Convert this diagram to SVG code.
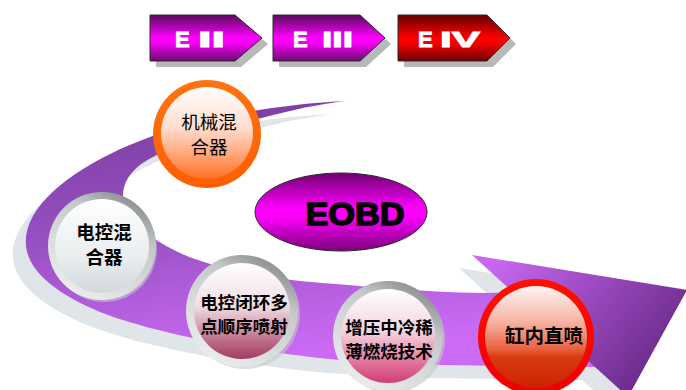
<svg xmlns="http://www.w3.org/2000/svg" width="686" height="390" viewBox="0 0 686 390">
  <style>
    .tag-shadow { fill: #b8b8b8; }
    .tag { stroke: #2a2a2a; stroke-width: 1; }
    .tag-text { font-family: "Liberation Sans", Arial, sans-serif; font-weight: bold; font-size: 22px; fill: #ffffff; stroke: #ffffff; stroke-width: 0.9; }
    .cjk { font-family: "Noto Sans CJK SC", sans-serif; text-anchor: middle; fill: #000000; }
    .bold { font-weight: bold; }
    .eobd { font-family: "Liberation Sans", Arial, sans-serif; font-weight: bold; font-size: 32px; fill: #000000; stroke: #000000; stroke-width: 1.6; text-anchor: middle; }
  </style>
  <defs>
    <linearGradient id="gPurpleTag" x1="0" y1="0" x2="0" y2="1">
      <stop offset="0" stop-color="#5a0a5e"/>
      <stop offset="0.5" stop-color="#ff00ff"/>
      <stop offset="0.62" stop-color="#f400f4"/>
      <stop offset="1" stop-color="#6a0a70"/>
    </linearGradient>
    <linearGradient id="gRedTag" x1="0" y1="0" x2="0" y2="1">
      <stop offset="0" stop-color="#680000"/>
      <stop offset="0.5" stop-color="#ff0000"/>
      <stop offset="0.62" stop-color="#f40000"/>
      <stop offset="1" stop-color="#6c0000"/>
    </linearGradient>
    <linearGradient id="gBand" x1="0" y1="0" x2="0.25" y2="1">
      <stop offset="0" stop-color="#7a3a9c"/>
      <stop offset="0.5" stop-color="#9650c2"/>
      <stop offset="1" stop-color="#cc6af5"/>
    </linearGradient>
    <linearGradient id="gHead" gradientUnits="userSpaceOnUse" x1="490" y1="262" x2="640" y2="385">
      <stop offset="0" stop-color="#c968f2"/>
      <stop offset="1" stop-color="#6c2c8c"/>
    </linearGradient>
    <linearGradient id="gEobd" x1="0" y1="0" x2="0" y2="1">
      <stop offset="0" stop-color="#700070"/>
      <stop offset="0.45" stop-color="#ff00ff"/>
      <stop offset="0.58" stop-color="#f800f8"/>
      <stop offset="1" stop-color="#7a007a"/>
    </linearGradient>
    <!-- rings -->
    <linearGradient id="ringOrange" x1="0" y1="0" x2="0" y2="1">
      <stop offset="0" stop-color="#ff7410"/>
      <stop offset="1" stop-color="#ff5e00"/>
    </linearGradient>
    <linearGradient id="ringSilver" x1="0.8" y1="0" x2="0.2" y2="1">
      <stop offset="0" stop-color="#7e8282"/>
      <stop offset="0.3" stop-color="#c4c8c8"/>
      <stop offset="1" stop-color="#eef0f0"/>
    </linearGradient>
    <linearGradient id="ringRed" x1="0" y1="0" x2="0" y2="1">
      <stop offset="0" stop-color="#ff1000"/>
      <stop offset="1" stop-color="#ee0000"/>
    </linearGradient>
    <!-- faces -->
    <linearGradient id="faceOrange" x1="0" y1="0" x2="0" y2="1">
      <stop offset="0" stop-color="#ffffff"/>
      <stop offset="0.45" stop-color="#ffdccc"/>
      <stop offset="0.78" stop-color="#ff9c6a"/>
      <stop offset="1" stop-color="#ff7024"/>
    </linearGradient>
    <linearGradient id="faceGrey" x1="0" y1="0" x2="0" y2="1">
      <stop offset="0" stop-color="#ffffff"/>
      <stop offset="0.6" stop-color="#eaeeef"/>
      <stop offset="1" stop-color="#d2d9db"/>
    </linearGradient>
    <linearGradient id="faceRose" x1="0" y1="0" x2="0" y2="1">
      <stop offset="0" stop-color="#ffffff"/>
      <stop offset="0.45" stop-color="#f0dde3"/>
      <stop offset="0.8" stop-color="#c0708c"/>
      <stop offset="1" stop-color="#a03c62"/>
    </linearGradient>
    <linearGradient id="facePink" x1="0" y1="0" x2="0" y2="1">
      <stop offset="0" stop-color="#ffffff"/>
      <stop offset="0.45" stop-color="#f4d4de"/>
      <stop offset="0.8" stop-color="#e07098"/>
      <stop offset="1" stop-color="#d03c74"/>
    </linearGradient>
    <linearGradient id="faceRed" x1="0" y1="0" x2="0" y2="1">
      <stop offset="0" stop-color="#fff4f2"/>
      <stop offset="0.35" stop-color="#f6b4a4"/>
      <stop offset="0.62" stop-color="#e8603e"/>
      <stop offset="0.7" stop-color="#d83a10"/>
      <stop offset="1" stop-color="#cc2200"/>
    </linearGradient>

    <!-- curved band and its arrowhead -->
    <path id="band" d="M345,101 C300,103 220,112 150,137 C95,157 45,188 30,222 C16,255 36,285 100,312 C150,332 250,352 340,360 L440,365 L600,367 L540,292 L483,293 C420,292 360,286 300,281 C240,274 195,262 170,248 C140,232 122,212 123,194 C124,178 135,166 153,157 C185,140 240,122 290,111 C310,106 330,103 345,101 Z"/>
    <path id="head" d="M472,255 L687,290 L628,397 Z"/>
  </defs>

  <rect width="686" height="390" fill="#ffffff"/>

  <!-- big sweeping arrow -->
  <g id="connectors">
    <g transform="translate(-13,13)" fill="#dfe5e8">
      <use href="#band"/>
      <use href="#head"/>
    </g>
    <use href="#band" fill="url(#gBand)"/>
    <use href="#head" fill="url(#gHead)"/>
  </g>

  <!-- emission stage tags -->
  <g id="tag-e2">
    <polygon class="tag-shadow" points="156,21 241,21 268,44 241,67 156,67"/>
    <polygon class="tag" fill="url(#gPurpleTag)" points="150,15 235,15 262,38 235,61 150,61"/>
    <text class="tag-text" x="175" y="47">E</text>
    <text class="tag-text" x="198" y="47" textLength="27" lengthAdjust="spacingAndGlyphs">II</text>
  </g>
  <g id="tag-e3">
    <polygon class="tag-shadow" points="279,21 366,21 391,44 366,67 279,67"/>
    <polygon class="tag" fill="url(#gPurpleTag)" points="273,15 360,15 385,38 360,61 273,61"/>
    <text class="tag-text" x="293" y="47">E</text>
    <text class="tag-text" x="322" y="47" textLength="31" lengthAdjust="spacingAndGlyphs">III</text>
  </g>
  <g id="tag-e4">
    <polygon class="tag-shadow" points="404,21 493,21 516,44 493,67 404,67"/>
    <polygon class="tag" fill="url(#gRedTag)" points="398,15 487,15 510,38 487,61 398,61"/>
    <text class="tag-text" x="418" y="47">E</text>
    <text class="tag-text" x="440" y="47" textLength="40" lengthAdjust="spacingAndGlyphs">IV</text>
  </g>

  <!-- centre label -->
  <g id="eobd">
    <ellipse cx="341" cy="212" rx="86" ry="39" fill="url(#gEobd)" stroke="#2a2a2a" stroke-width="1"/>
    <text class="eobd" x="355" y="225" textLength="99" lengthAdjust="spacingAndGlyphs">EOBD</text>
  </g>

  <!-- technology milestones -->
  <g id="n-mechanical">
    <circle cx="207" cy="134" r="54" fill="url(#ringOrange)"/>
    <circle cx="207" cy="133" r="46" fill="url(#faceOrange)"/>
    <text class="cjk" font-size="18.5" x="209" y="128.5">机械混</text>
    <text class="cjk" font-size="18.5" x="209" y="153.5">合器</text>
  </g>

  <g id="n-electronic-mixer">
    <circle cx="104" cy="249" r="53" fill="#c4c8c8" opacity="0.6"/>
    <circle cx="102" cy="246" r="54" fill="url(#ringSilver)"/>
    <circle cx="102" cy="246" r="47" fill="url(#faceGrey)"/>
    <text class="cjk bold" font-size="18.5" x="104" y="238.5">电控混</text>
    <text class="cjk bold" font-size="18.5" x="104" y="263.5">合器</text>
  </g>

  <g id="n-multipoint">
    <circle cx="245" cy="314" r="55" fill="#c4c8c8" opacity="0.6"/>
    <circle cx="242" cy="311" r="56" fill="url(#ringSilver)"/>
    <circle cx="242" cy="311" r="48" fill="url(#faceRose)"/>
    <text class="cjk bold" font-size="17.5" x="244" y="308.5">电控闭环多</text>
    <text class="cjk bold" font-size="17.5" x="244" y="332.5">点顺序喷射</text>
  </g>

  <g id="n-lean-burn">
    <circle cx="391" cy="339" r="54" fill="#c4c8c8" opacity="0.6"/>
    <circle cx="388" cy="336" r="55" fill="url(#ringSilver)"/>
    <circle cx="388" cy="336" r="47" fill="url(#facePink)"/>
    <text class="cjk bold" font-size="17.5" x="389" y="334">增压中冷稀</text>
    <text class="cjk bold" font-size="17.5" x="389" y="358">薄燃烧技术</text>
  </g>

  <g id="n-direct-injection">
    <circle cx="536" cy="337" r="58" fill="url(#ringRed)"/>
    <circle cx="536" cy="337" r="51" fill="url(#faceRed)"/>
    <text class="cjk bold" font-size="19.5" x="544" y="343">缸内直喷</text>
  </g>
</svg>
